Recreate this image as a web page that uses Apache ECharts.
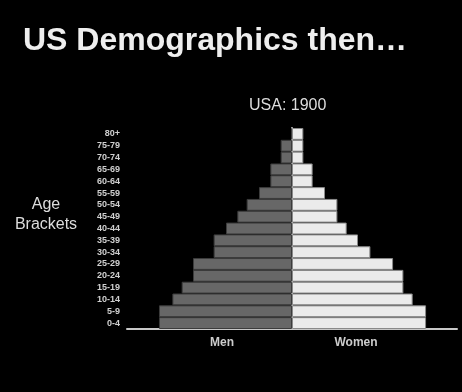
<!DOCTYPE html>
<html><head><meta charset="utf-8">
<script src="https://cdn.jsdelivr.net/npm/echarts@6/dist/echarts.min.js"></script>
<style>html,body{margin:0;padding:0;background:#000;}#c{width:462px;height:392px;}</style>
</head><body><div id="c"></div>
<script>
// Age brackets, bottom to top
var ageBrackets = ["0-4","5-9","10-14","15-19","20-24","25-29","30-34","35-39","40-44","45-49","50-54","55-59","60-64","65-69","70-74","75-79","80+"];
// percent of population
var menValues   = [6.45,6.45,5.8,5.35,4.8,4.8,3.8,3.8,3.2,2.65,2.2,1.6,1.05,1.05,0.55,0.55,0.05];
var womenValues = [6.5,6.5,5.85,5.4,5.4,4.9,3.8,3.2,2.65,2.2,2.2,1.6,1.0,1.0,0.55,0.55,0.55];

var chart = echarts.init(document.getElementById('c'));
chart.setOption({
  backgroundColor: '#000',
  animation: false,
  textStyle: {fontFamily: 'Liberation Sans, Arial, sans-serif'},
  title: [
    {text: 'US Demographics then\u2026', left: 18, top: 20,
     textStyle: {color: '#eeeeee', fontSize: 32, fontWeight: 'bold', fontFamily: 'Liberation Sans'}},
    {text: 'USA: 1900', left: 244, top: 93,
     textStyle: {color: '#dddddd', fontSize: 16, fontWeight: 'normal', fontFamily: 'Liberation Sans'}}
  ],
  graphic: [
    {type: 'text', x: 46, y: 205, style: {text: 'Age', fill: '#dddddd', font: '16px Liberation Sans', textAlign: 'center', textVerticalAlign: 'middle'}},
    {type: 'text', x: 46, y: 225, style: {text: 'Brackets', fill: '#dddddd', font: '16px Liberation Sans', textAlign: 'center', textVerticalAlign: 'middle'}},
    {type: 'text', x: 222, y: 343, style: {text: 'Men', fill: '#cccccc', font: 'bold 12px Liberation Sans', textAlign: 'center', textVerticalAlign: 'middle'}},
    {type: 'text', x: 356, y: 343, style: {text: 'Women', fill: '#cccccc', font: 'bold 12px Liberation Sans', textAlign: 'center', textVerticalAlign: 'middle'}}
  ],
  grid: {left: 127, right: 5, top: 128, bottom: 63},
  xAxis: {
    type: 'value', min: -8, max: 8,
    axisLabel: {show: false}, axisTick: {show: false}, splitLine: {show: false},
    axisLine: {show: true, lineStyle: {color: '#c8c8c8', width: 2}}
  },
  yAxis: {
    type: 'category', data: ageBrackets,
    axisTick: {show: false},
    axisLine: {show: true, lineStyle: {color: '#c8c8c8', width: 2}},
    axisLabel: {color: '#d0d0d0', fontSize: 9, fontWeight: 'bold', margin: 7, fontFamily: 'Liberation Sans'}
  },
  series: [
    {name: 'Men', type: 'bar', stack: 'p', barCategoryGap: '0%',
     data: menValues.map(function(v){return -v;}),
     itemStyle: {color: '#676767', borderColor: '#3c3c3c', borderWidth: 1}},
    {name: 'Women', type: 'bar', stack: 'p', barCategoryGap: '0%',
     data: womenValues,
     itemStyle: {color: '#ebebeb', borderColor: '#8a8a8a', borderWidth: 1}}
  ]
});
</script></body></html>
